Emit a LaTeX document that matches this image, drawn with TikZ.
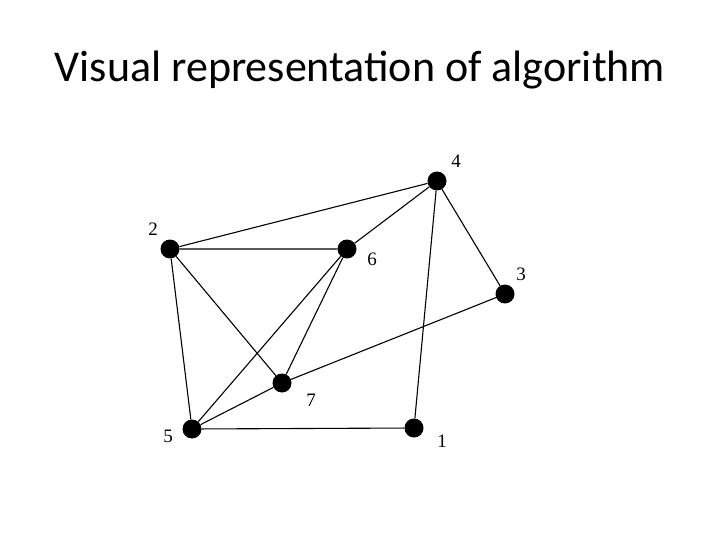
\documentclass[tikz,border=0pt]{standalone}
\usepackage{fontspec}
\setmainfont{Liberation Serif}
\newfontfamily\titlefont{Carlito}
\begin{document}
\begin{tikzpicture}[x=1pt,y=-1pt,
  vert/.style={circle,fill=black,inner sep=0pt,minimum size=19pt},
  lab/.style={font=\fontsize{19}{19}\selectfont},
  edge/.style={line width=1.1pt}]
\useasboundingbox (0,0) rectangle (720,540);
\node[font=\titlefont\fontsize{44}{48}\selectfont] (title) at (360,70) {Visual representation of algorithm};
\node[vert] (n4) at (437,181) {};
\node[vert] (n2) at (170,249) {};
\node[vert] (n6) at (347,249) {};
\node[vert] (n3) at (505,294) {};
\node[vert] (n7) at (282,383) {};
\node[vert] (n5) at (192,429) {};
\node[vert] (n1) at (414,428) {};
\node[lab] (l4) at (456,161) {4};
\node[lab] (l2) at (153,229) {2};
\node[lab] (l6) at (372,259) {6};
\node[lab] (l3) at (521,274) {3};
\node[lab] (l7) at (311,400) {7};
\node[lab] (l5) at (168,436) {5};
\node[lab] (l1) at (442,441) {1};
\draw[edge] (n2)--(n4) (n2)--(n6) (n2)--(n5) (n2)--(n7)
  (n6)--(n4) (n6)--(n7) (n6)--(n5) (n4)--(n3) (n4)--(n1)
  (n3)--(n7) (n7)--(n5) (n5)--(n1);
\end{tikzpicture}
\end{document}
